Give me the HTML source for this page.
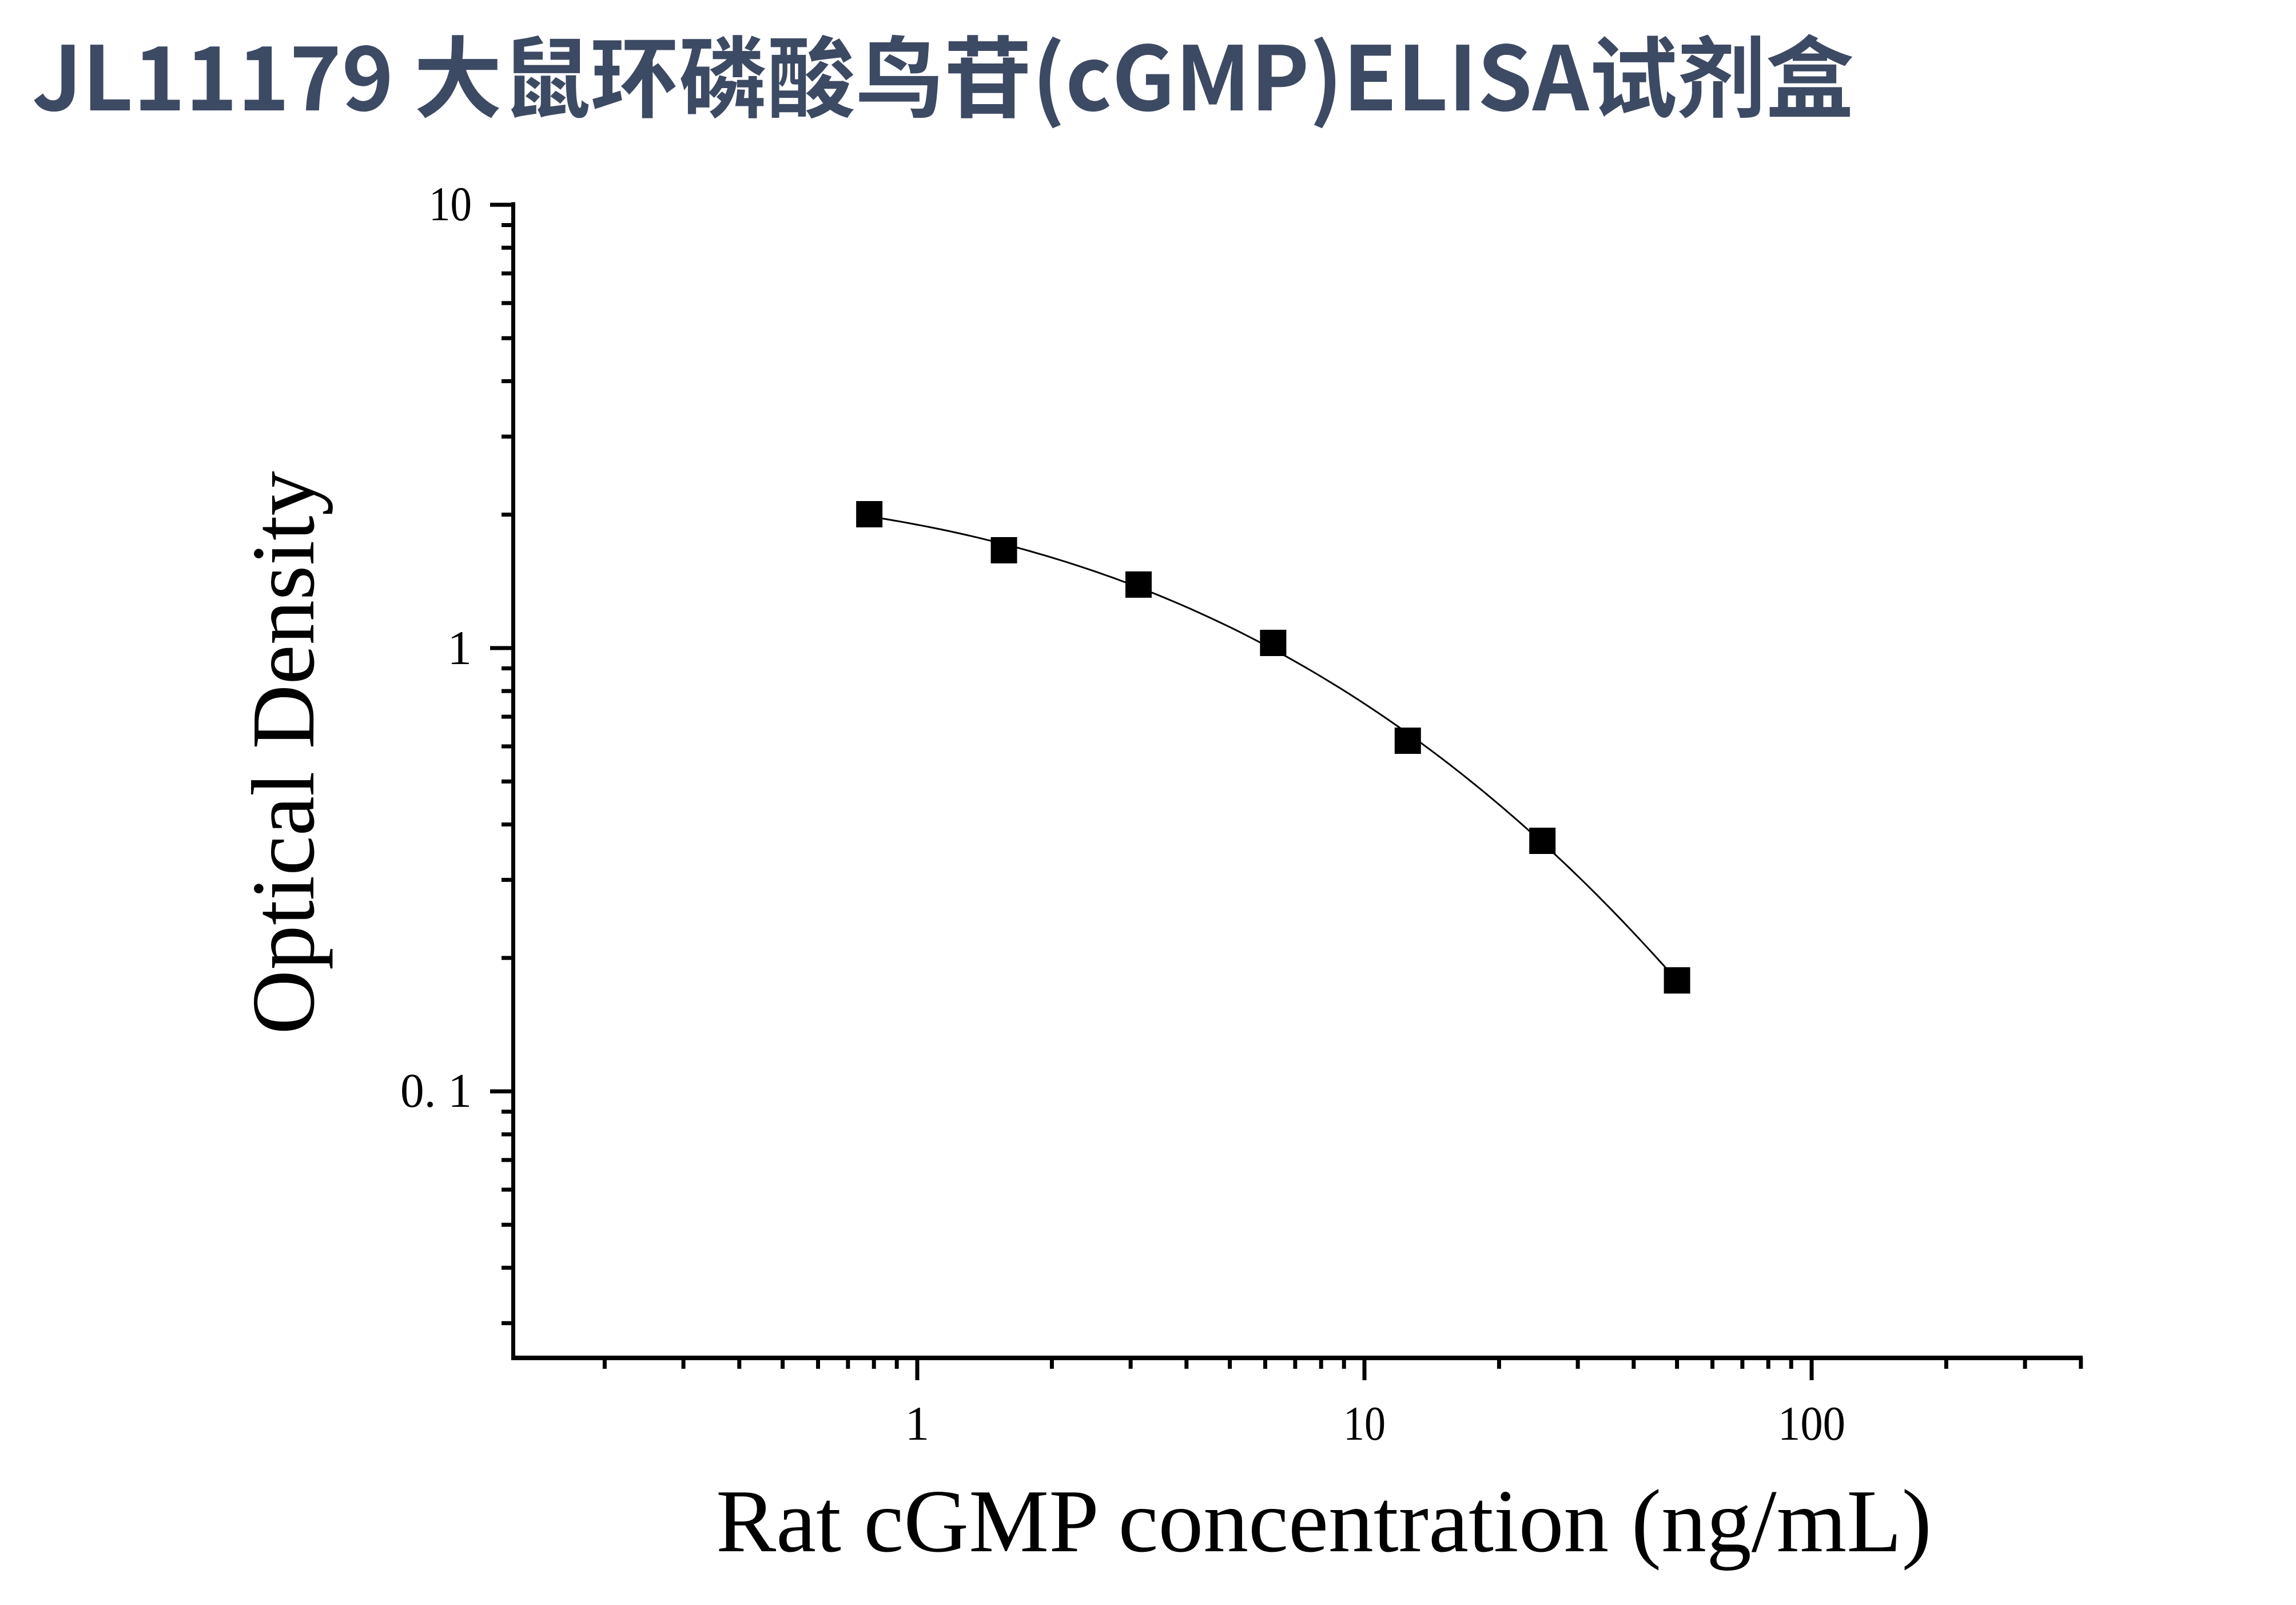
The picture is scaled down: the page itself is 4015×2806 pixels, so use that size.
<!DOCTYPE html>
<html><head><meta charset="utf-8">
<style>
html,body{margin:0;padding:0;background:#fff;}
svg{display:block;}
</style></head>
<body>
<svg id="s" width="4015" height="2806" viewBox="0 0 4015 2806" xmlns="http://www.w3.org/2000/svg">
<rect width="4015" height="2806" fill="#fff"/>
<text x="56" y="193" font-family="'Noto Sans CJK SC','Liberation Sans',sans-serif" font-weight="bold" font-size="155" fill="#3d4a63" textLength="3186" lengthAdjust="spacingAndGlyphs">JL11179 大鼠环磷酸鸟苷(cGMP)ELISA试剂盒</text>
<g id="ticks" stroke="#000" stroke-width="7"></g>
<line x1="897.5" y1="353.5" x2="897.5" y2="2377.5" stroke="#000" stroke-width="7"/>
<line x1="894" y1="2374" x2="3642" y2="2374" stroke="#000" stroke-width="8"/>
<g font-family="'Liberation Serif',serif" font-size="85" fill="#000">
<text x="825" y="385" text-anchor="end" textLength="75" lengthAdjust="spacingAndGlyphs">10</text>
<text x="825" y="1161" text-anchor="end">1</text>
<text x="825" y="1935" text-anchor="end" textLength="125" lengthAdjust="spacingAndGlyphs">0. 1</text>
<text x="1604" y="2517" text-anchor="middle">1</text>
<text x="2386" y="2517" text-anchor="middle" textLength="74" lengthAdjust="spacingAndGlyphs">10</text>
<text x="3168" y="2517" text-anchor="middle" textLength="118" lengthAdjust="spacingAndGlyphs">100</text>
</g>
<text x="1252" y="2712" font-family="'Liberation Serif',serif" font-size="157" fill="#000" textLength="2126" lengthAdjust="spacingAndGlyphs">Rat cGMP concentration (ng/mL)</text>
<text transform="translate(548,1316) rotate(-90)" x="0" y="0" text-anchor="middle" font-family="'Liberation Serif',serif" font-size="157" fill="#000" textLength="985" lengthAdjust="spacingAndGlyphs">Optical Density</text>
<path id="curve" d="" fill="none" stroke="#000" stroke-width="3"/>
<g id="pts" fill="#000"></g>
</svg>
<script>
(function(){
var g=document.getElementById('ticks'),h='';
function ln(a,b,c,d){h+='<line x1="'+a+'" y1="'+b+'" x2="'+c+'" y2="'+d+'"/>';}
function Y(v){return 1133-775*Math.log10(v);}
function X(v){return 1604+782*Math.log10(v);}
[10,1,0.1].forEach(function(v){ln(857,Y(v),897,Y(v));});
[0.01,0.1,1].forEach(function(d){for(var k=2;k<=9;k++){var v=d*k,y=Y(v);if(y>2370||y<360)continue;ln(877,y,897,y);}});
[1,10,100].forEach(function(v){ln(X(v),2374,X(v),2413);});
[0.1,1,10,100].forEach(function(d){for(var k=2;k<=9;k++){var v=d*k,x=X(v);if(x<900||x>3645)continue;ln(x,2374,x,2393);}});
g.innerHTML=h;
var cs=[0.78125,1.5625,3.125,6.25,12.5,25,50],ys=[899,962,1022,1124,1295,1470,1714];
var xs=cs.map(X),p='';
xs.forEach(function(x,i){p+='<rect x="'+(x-23)+'" y="'+(ys[i]-23)+'" width="46" height="46"/>';});
document.getElementById('pts').innerHTML=p;
// cubic least squares in t=(x-x0)/range
var x0=xs[0],R=xs[6]-xs[0],n=4,A=[],b=[];
for(var i=0;i<n;i++){A.push([0,0,0,0]);b.push(0);}
xs.forEach(function(x,k){var t=(x-x0)/R;for(var i=0;i<n;i++){for(var j=0;j<n;j++)A[i][j]+=Math.pow(t,i+j);b[i]+=Math.pow(t,i)*ys[k];}});
for(var i=0;i<n;i++){for(var r=i+1;r<n;r++){var f=A[r][i]/A[i][i];for(var j=i;j<n;j++)A[r][j]-=f*A[i][j];b[r]-=f*b[i];}}
var c=[0,0,0,0];for(var i=n-1;i>=0;i--){var s=b[i];for(var j=i+1;j<n;j++)s-=A[i][j]*c[j];c[i]=s/A[i][i];}
var d='';for(var k=0;k<=120;k++){var t=k/120,y=c[0]+c[1]*t+c[2]*t*t+c[3]*t*t*t;d+=(k?'L':'M')+(x0+R*t).toFixed(1)+','+y.toFixed(1);}
document.getElementById('curve').setAttribute('d',d);
})();
</script>
</body></html>
